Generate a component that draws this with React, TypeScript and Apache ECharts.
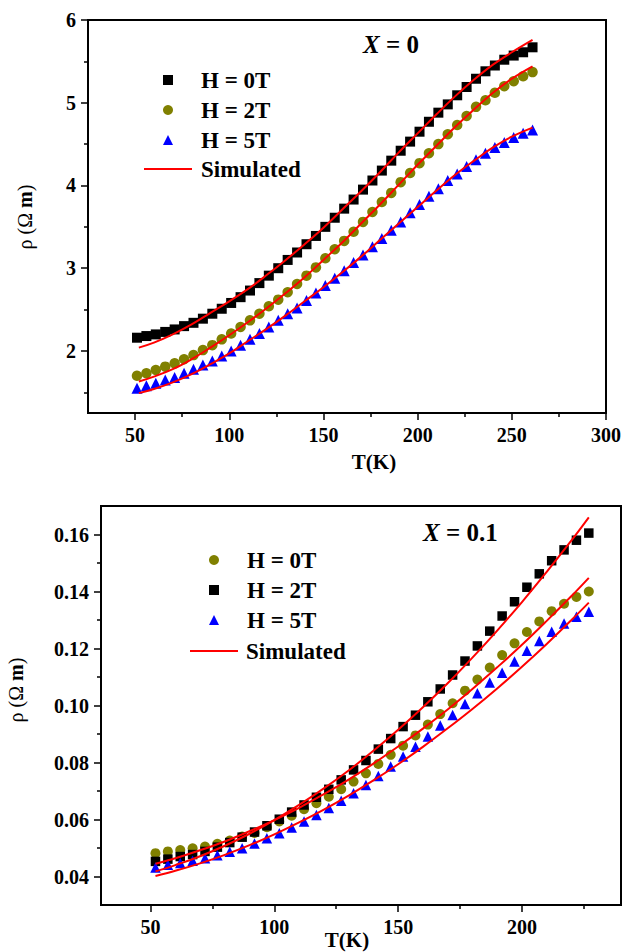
import React, { useEffect, useRef } from "react";
import * as echarts from "echarts";

// ---- X = 0 panel -------------------------------------------------------
const tempA = [
  51, 56, 61, 66, 71, 76, 81, 86, 91, 96, 101, 106, 111, 116, 121, 126, 131, 136, 141, 146, 151,
  156, 161, 166, 171, 176, 181, 186, 191, 196, 201, 206, 211, 216, 221, 226, 231, 236, 241, 246,
  251, 256, 261,
];
const rhoA0T = [
  2.16, 2.18, 2.2, 2.23, 2.26, 2.3, 2.34, 2.39, 2.45, 2.51, 2.58, 2.65, 2.73, 2.82, 2.91, 3.0, 3.1,
  3.19, 3.29, 3.39, 3.5, 3.61, 3.72, 3.83, 3.95, 4.06, 4.18, 4.3, 4.42, 4.53, 4.65, 4.77, 4.88,
  4.98, 5.09, 5.19, 5.29, 5.38, 5.45, 5.52, 5.57, 5.61, 5.67,
];
const rhoA2T = [
  1.7, 1.73, 1.77, 1.81, 1.85, 1.9, 1.95, 2.01, 2.07, 2.14, 2.21, 2.29, 2.37, 2.45, 2.54, 2.62,
  2.71, 2.81, 2.91, 3.01, 3.12, 3.23, 3.33, 3.44, 3.56, 3.68, 3.8, 3.91, 4.04, 4.15, 4.27, 4.39,
  4.5, 4.62, 4.73, 4.84, 4.95, 5.03, 5.12, 5.2, 5.26, 5.32, 5.37,
];
const rhoA5T = [
  1.55, 1.58, 1.61, 1.65, 1.68, 1.73, 1.78, 1.83, 1.88, 1.94, 2.0, 2.07, 2.14, 2.21, 2.29, 2.37,
  2.45, 2.52, 2.61, 2.7, 2.79, 2.88, 2.97, 3.07, 3.16, 3.26, 3.36, 3.46, 3.56, 3.67, 3.77, 3.87,
  3.96, 4.06, 4.14, 4.23, 4.31, 4.39, 4.46, 4.52, 4.58, 4.63, 4.67,
];
const simTempA = [52, 60, 70, 80, 90, 100, 110, 120, 130, 140, 150, 160, 170, 180, 190, 200, 210, 220, 230, 240, 250, 261];
const simA0T = [2.04, 2.1, 2.2, 2.32, 2.46, 2.6, 2.75, 2.92, 3.1, 3.29, 3.49, 3.71, 3.93, 4.16, 4.4, 4.63, 4.86, 5.08, 5.28, 5.46, 5.61, 5.76];
const simA2T = [1.63, 1.69, 1.78, 1.9, 2.04, 2.19, 2.35, 2.52, 2.7, 2.89, 3.1, 3.31, 3.54, 3.77, 4.01, 4.25, 4.48, 4.71, 4.92, 5.12, 5.29, 5.44];
const simA5T = [1.49, 1.54, 1.62, 1.72, 1.84, 1.97, 2.12, 2.27, 2.43, 2.6, 2.77, 2.95, 3.14, 3.34, 3.54, 3.74, 3.94, 4.13, 4.3, 4.46, 4.59, 4.7];
const ticksAxMajor = [50, 100, 150, 200, 250, 300];
const ticksAxMinor = [75, 125, 175, 225, 275];
const ticksAyMajor = [2, 3, 4, 5, 6];
const ticksAyMinor = [1.5, 2.5, 3.5, 4.5, 5.5];

// ---- X = 0.1 panel -----------------------------------------------------
const tempB = [
  52, 57, 62, 67, 72, 77, 82, 87, 92, 97, 102, 107, 112, 117, 122, 127, 132, 137, 142, 147, 152,
  157, 162, 167, 172, 177, 182, 187, 192, 197, 202, 207, 212, 217, 222, 227,
];
const rhoB0T = [
  0.0482, 0.0488, 0.0493, 0.0499, 0.0505, 0.0515, 0.0526, 0.054, 0.0553, 0.0573, 0.0593, 0.0613,
  0.0636, 0.0657, 0.068, 0.0706, 0.0733, 0.0762, 0.0795, 0.0827, 0.0859, 0.0895, 0.0933, 0.097,
  0.1008, 0.1052, 0.1091, 0.1133, 0.1177, 0.1218, 0.1258, 0.1295, 0.1331, 0.1357, 0.1381, 0.14,
];
const rhoB2T = [
  0.0453, 0.0461, 0.047, 0.0477, 0.0488, 0.0503, 0.0519, 0.0538, 0.0556, 0.0578, 0.0601, 0.0626,
  0.0651, 0.0678, 0.0706, 0.0739, 0.0774, 0.0807, 0.0847, 0.0884, 0.0926, 0.0966, 0.1013, 0.1058,
  0.1107, 0.1156, 0.1209, 0.1261, 0.1314, 0.1364, 0.1415, 0.1462, 0.1508, 0.1546, 0.158, 0.1605,
];
const rhoB5T = [
  0.0432, 0.0441, 0.0447, 0.0455, 0.0464, 0.0475, 0.0487, 0.0499, 0.0516, 0.0534, 0.0552, 0.0572,
  0.0593, 0.0616, 0.064, 0.0666, 0.0692, 0.0721, 0.0753, 0.0786, 0.0821, 0.0855, 0.0891, 0.093,
  0.0967, 0.1005, 0.1043, 0.1081, 0.1115, 0.1154, 0.1192, 0.1226, 0.1259, 0.1288, 0.1311, 0.1329,
];
const simTempB = [52, 60, 70, 80, 90, 100, 110, 120, 130, 140, 150, 160, 170, 180, 190, 200, 210, 220, 227];
const simB0T = [0.0445, 0.0464, 0.0492, 0.0523, 0.0559, 0.0598, 0.0641, 0.0689, 0.074, 0.0796, 0.0856, 0.0919, 0.0986, 0.1058, 0.1134, 0.1213, 0.1297, 0.1384, 0.1448];
const simB2T = [0.0418, 0.044, 0.0471, 0.0508, 0.055, 0.0598, 0.0651, 0.0709, 0.0772, 0.0841, 0.0915, 0.0994, 0.1078, 0.1168, 0.1263, 0.1363, 0.1469, 0.1579, 0.166];
const simB5T = [0.0402, 0.042, 0.0446, 0.0476, 0.051, 0.0548, 0.059, 0.0635, 0.0684, 0.0737, 0.0794, 0.0855, 0.092, 0.0988, 0.106, 0.1136, 0.1216, 0.13, 0.1361];
const ticksBxMajor = [50, 100, 150, 200];
const ticksBxMinor = [75, 125, 175, 225];
const ticksByMajor = [0.04, 0.06, 0.08, 0.1, 0.12, 0.14, 0.16];
const ticksByMinor = [0.05, 0.07, 0.09, 0.11, 0.13, 0.15];

const FONT = '"Liberation Serif", "Times New Roman", serif';
const RED = "#ff0000";
const OLIVE = "#808000";
const BLUE = "#0000ff";
const BLACK = "#000000";

const pairs = (xs: number[], ys: number[]) => xs.map((x, i) => [x, ys[i]]);

type Marker = { name: string; symbol: string; color: string; size: number; x: number[]; y: number[] };

interface PanelCfg {
  grid: { left: number; top: number; width: number; height: number };
  xRange: [number, number];
  yRange: [number, number];
  xMajor: number[];
  xMinor: number[];
  yMajor: number[];
  yMinor: number[];
  yFmt: (v: number) => string;
  markers: Marker[];
  simX: number[];
  simY: number[][];
  legendLeft: number;
  legendTop: number;
  legendPad: number;
  simLegendLeft: number;
  simLegendTop: number;
  simLegendPad: number;
  tag: { x: number; y: number; value: string };
  xTitle: { x: number; y: number };
  yTitle: { x: number; y: number };
}

function valueAxis(
  grid: number,
  range: [number, number],
  major: number[],
  minor: number[],
  fmt: (v: number) => string,
  position: string
) {
  const base = {
    type: "value",
    gridIndex: grid,
    min: range[0],
    max: range[1],
    position,
    splitLine: { show: false },
  };
  return [
    {
      ...base,
      axisLine: { show: true, onZero: false, lineStyle: { color: BLACK, width: 2 } },
      axisTick: { show: true, length: 7, customValues: major, lineStyle: { color: BLACK, width: 1.5 } },
      axisLabel: {
        show: true,
        customValues: major,
        formatter: (v: number) => fmt(v),
        fontFamily: FONT,
        fontWeight: "bold",
        fontSize: 20,
        color: BLACK,
        margin: 12,
      },
    },
    {
      ...base,
      axisLine: { show: false, onZero: false },
      axisTick: { show: true, length: 4, customValues: minor, lineStyle: { color: BLACK, width: 1.5 } },
      axisLabel: { show: false },
    },
  ];
}

function buildOption(c: PanelCfg) {
  const legendText = {
    fontFamily: FONT,
    fontWeight: "bold",
    fontSize: 23,
    color: BLACK,
    lineHeight: 30,
  };
  const scatter = c.markers.map((m) => ({
    name: m.name,
    type: "scatter",
    symbol: m.symbol,
    symbolSize: m.size,
    itemStyle: { color: m.color, opacity: 1 },
    data: pairs(m.x, m.y),
    z: 2,
  }));
  const sims = c.simY.map((ys) => ({
    name: "Simulated",
    type: "line",
    showSymbol: false,
    smooth: 0.4,
    color: RED,
    itemStyle: { color: RED, opacity: 1 },
    lineStyle: { color: RED, width: 2 },
    data: pairs(c.simX, ys),
    z: 3,
  }));
  return {
    animation: false,
    backgroundColor: "#ffffff",
    grid: [{ ...c.grid, show: true, borderColor: BLACK, borderWidth: 2, backgroundColor: "transparent" }],
    xAxis: valueAxis(0, c.xRange, c.xMajor, c.xMinor, (v) => String(v), "bottom"),
    yAxis: valueAxis(0, c.yRange, c.yMajor, c.yMinor, c.yFmt, "left"),
    legend: [
      {
        orient: "vertical",
        left: c.legendLeft,
        top: c.legendTop,
        itemWidth: 10,
        itemHeight: 10,
        itemGap: 0,
        selectedMode: false,
        data: c.markers.map((m) => m.name),
        itemStyle: { opacity: 1 },
        textStyle: { ...legendText, padding: [0, 0, 0, c.legendPad] },
      },
      {
        orient: "vertical",
        left: c.simLegendLeft,
        top: c.simLegendTop,
        itemWidth: 48,
        itemHeight: 2,
        itemGap: 0,
        selectedMode: false,
        data: [{ name: "Simulated", icon: "rect" }],
        textStyle: { ...legendText, padding: [0, 0, 0, c.simLegendPad] },
      },
    ],
    graphic: [
      {
        type: "text",
        x: c.tag.x,
        y: c.tag.y,
        style: {
          text: "{i|X} = " + c.tag.value,
          fontFamily: FONT,
          fontWeight: "bold",
          fontSize: 25,
          fill: BLACK,
          align: "left",
          verticalAlign: "middle",
          rich: {
            i: { fontFamily: FONT, fontSize: 25, fontStyle: "italic", fontWeight: "bold", fill: BLACK },
          },
        },
      },
      {
        type: "text",
        x: c.xTitle.x,
        y: c.xTitle.y,
        style: {
          text: "T(K)",
          fontFamily: FONT,
          fontWeight: "bold",
          fontSize: 21,
          fill: BLACK,
          align: "center",
          verticalAlign: "middle",
        },
      },
      {
        type: "text",
        x: c.yTitle.x,
        y: c.yTitle.y,
        rotation: Math.PI / 2,
        style: {
          text: "{n|ρ (Ω }{b|m}{n|)}",
          fontFamily: FONT,
          fontSize: 20,
          fill: BLACK,
          align: "center",
          verticalAlign: "middle",
          rich: {
            n: { fontFamily: FONT, fontSize: 20, fill: BLACK },
            b: { fontFamily: FONT, fontSize: 20, fontWeight: "bold", fill: BLACK },
          },
        },
      },
    ],
    series: [...scatter, ...sims],
  };
}

const panelA: PanelCfg = {
  grid: { left: 88, top: 20, width: 521, height: 393 },
  xRange: [25, 300],
  yRange: [1.25, 6],
  xMajor: ticksAxMajor,
  xMinor: ticksAxMinor,
  yMajor: ticksAyMajor,
  yMinor: ticksAyMinor,
  yFmt: (v) => String(v),
  markers: [
    { name: "H = 0T", symbol: "rect", color: BLACK, size: 10, x: tempA, y: rhoA0T },
    { name: "H = 2T", symbol: "circle", color: OLIVE, size: 10.5, x: tempA, y: rhoA2T },
    { name: "H = 5T", symbol: "triangle", color: BLUE, size: 11, x: tempA, y: rhoA5T },
  ],
  simX: simTempA,
  simY: [simA0T, simA2T, simA5T],
  legendLeft: 158,
  legendTop: 60,
  legendPad: 23,
  simLegendLeft: 139,
  simLegendTop: 149,
  simLegendPad: 4,
  tag: { x: 363, y: 44, value: "0" },
  xTitle: { x: 374, y: 462 },
  yTitle: { x: 25, y: 217 },
};

const panelB: PanelCfg = {
  grid: { left: 101, top: 30, width: 520, height: 399 },
  xRange: [30, 240],
  yRange: [0.03, 0.17],
  xMajor: ticksBxMajor,
  xMinor: ticksBxMinor,
  yMajor: ticksByMajor,
  yMinor: ticksByMinor,
  yFmt: (v) => v.toFixed(2),
  markers: [
    { name: "H = 0T", symbol: "circle", color: OLIVE, size: 10, x: tempB, y: rhoB0T },
    { name: "H = 2T", symbol: "rect", color: BLACK, size: 9.5, x: tempB, y: rhoB2T },
    { name: "H = 5T", symbol: "triangle", color: BLUE, size: 10.5, x: tempB, y: rhoB5T },
  ],
  simX: simTempB,
  simY: [simB0T, simB2T, simB5T],
  legendLeft: 204,
  legendTop: 64,
  legendPad: 23,
  simLegendLeft: 185,
  simLegendTop: 155,
  simLegendPad: 3,
  tag: { x: 423, y: 56, value: "0.1" },
  xTitle: { x: 347, y: 464 },
  yTitle: { x: 16, y: 214 },
};

export default function App() {
  const topRef = useRef<HTMLDivElement>(null);
  const botRef = useRef<HTMLDivElement>(null);

  useEffect(() => {
    if (!topRef.current || !botRef.current) return;
    const top = echarts.init(topRef.current, undefined, { renderer: "svg" });
    const bot = echarts.init(botRef.current, undefined, { renderer: "svg" });
    top.setOption(buildOption(panelA) as any);
    bot.setOption(buildOption(panelB) as any);
    return () => {
      top.dispose();
      bot.dispose();
    };
  }, []);

  return (
    <div style={{ position: "absolute", left: 0, top: 0, width: 624, height: 952, background: "#fff" }}>
      <div ref={topRef} style={{ width: 624, height: 476 }} />
      <div ref={botRef} style={{ width: 624, height: 476 }} />
    </div>
  );
}
